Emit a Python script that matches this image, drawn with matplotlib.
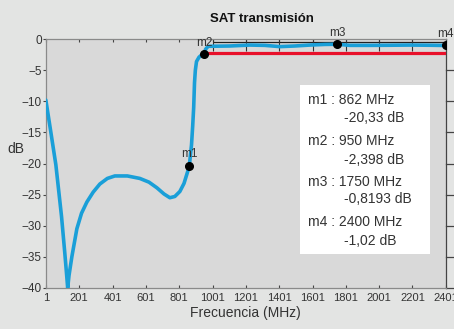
import matplotlib
matplotlib.use("Agg")
import matplotlib.pyplot as plt

# S21 trace, MHz / dB
freq = [1, 30, 61, 95, 115, 126, 132, 140, 157, 187, 215, 247, 285, 325, 370,
        415, 490, 565, 620, 667, 710, 745, 775, 805, 830, 853, 862, 875, 882,
        888, 893, 898, 905, 920, 935, 950, 960, 975, 1105, 1225, 1315, 1405,
        1495, 1585, 1675, 1750, 1825, 1945, 2065, 2185, 2305, 2400]
s21 = [-9.8, -14.8, -20.2, -28.5, -34.5, -38.0, -40.0, -38.0, -35.0, -30.5,
       -28.0, -26.2, -24.6, -23.3, -22.4, -22.0, -22.0, -22.4, -23.0, -23.9,
       -24.9, -25.5, -25.3, -24.5, -23.2, -21.2, -20.33, -17.0, -14.0, -11.0,
       -7.0, -5.0, -3.6, -2.9, -2.55, -2.398, -1.6, -1.15, -1.1, -0.95, -1.0,
       -1.2, -1.1, -0.95, -0.85, -0.8193, -1.0, -1.0, -0.98, -0.95, -0.98,
       -1.02]

# spec line
spec_f = [950, 2401]
spec_db = [-2.3, -2.3]

marker_names = ["m1", "m2", "m3", "m4"]
marker_f = [862, 950, 1750, 2400]
marker_db = [-20.33, -2.398, -0.8193, -1.02]
marker_db_txt = ["-20,33", "-2,398", "-0,8193", "-1,02"]

xticks = [1, 201, 401, 601, 801, 1001, 1201, 1401, 1601, 1801, 2001, 2201, 2401]
yticks = [0, -5, -10, -15, -20, -25, -30, -35, -40]

plt.rcParams["font.family"] = ["Liberation Sans", "DejaVu Sans"]

fig = plt.figure(figsize=(4.54, 3.29), dpi=100, facecolor="#e3e4e3")
ax = fig.add_axes([0.101, 0.125, 0.881, 0.756])
ax.set_facecolor("#d9d9d9")

ax.plot(spec_f, spec_db, color="#e8102a", lw=2.3, solid_capstyle="butt", zorder=3)
ax.plot(freq, s21, color="#1a9fd8", lw=2.6, solid_capstyle="round",
        solid_joinstyle="round", zorder=4)
ax.plot(marker_f, marker_db, "o", color="black", ms=5.5, zorder=5)
for name, f, db in zip(marker_names, marker_f, marker_db):
    ax.annotate(name, (f, db), xytext=(0, 4), textcoords="offset points",
                ha="center", va="bottom", fontsize=8.5, color="#333333",
                zorder=6)

# dark strip with long ticks along the upper band
ax.hlines(-0.45, 1001, 2401, color="#222222", lw=0.9, zorder=2)
ax.vlines(xticks[5:], -1.9, 0, color="#333333", lw=0.8, zorder=2)

ax.set_xlim(1, 2401)
ax.set_ylim(-40, 0)
ax.set_xticks(xticks)
ax.set_yticks(yticks)
ax.tick_params(axis="x", direction="in", length=2, color="#444444",
               labelsize=8, labelcolor="#333333", pad=4, top=True)
ax.tick_params(axis="y", direction="out", length=2, color="#444444",
               labelsize=8.5, labelcolor="#333333", pad=1)

for side in ["left", "bottom", "top"]:
    ax.spines[side].set_color("#8a8a8a")
    ax.spines[side].set_linewidth(0.9)
ax.spines["right"].set_color("#444444")
ax.spines["right"].set_linewidth(0.9)
# outward ticks on the right edge
for y in yticks[1:]:
    ax.plot([1.0, 1.03], [y, y], transform=ax.get_yaxis_transform(),
            color="#444444", lw=0.9, clip_on=False)

ax.set_title("SAT transmisión", fontsize=9.5, fontweight="bold",
             color="#111111", x=0.54, pad=12)
ax.set_xlabel("Frecuencia (MHz)", fontsize=10, color="#333333", labelpad=2)
ax.set_ylabel("dB", fontsize=10, color="#333333", rotation=0)
ax.yaxis.set_label_coords(-0.075, 0.53)

# marker readout box
ax.add_patch(plt.Rectangle((0.635, 0.137), 0.325, 0.678, transform=ax.transAxes,
                           facecolor="white", edgecolor="none", zorder=6))
row_y = [0.755, 0.683, 0.590, 0.516, 0.426, 0.357, 0.265, 0.189]
for i, (name, f, txt) in enumerate(zip(marker_names, marker_f, marker_db_txt)):
    ax.text(0.655, row_y[2 * i], f"{name} : {f} MHz", transform=ax.transAxes,
            fontsize=10, color="#333333", ha="left", va="center", zorder=7)
    ax.text(0.745, row_y[2 * i + 1], f"{txt} dB", transform=ax.transAxes,
            fontsize=10, color="#333333", ha="left", va="center", zorder=7)

fig.savefig("out.png", dpi=100, facecolor=fig.get_facecolor())
